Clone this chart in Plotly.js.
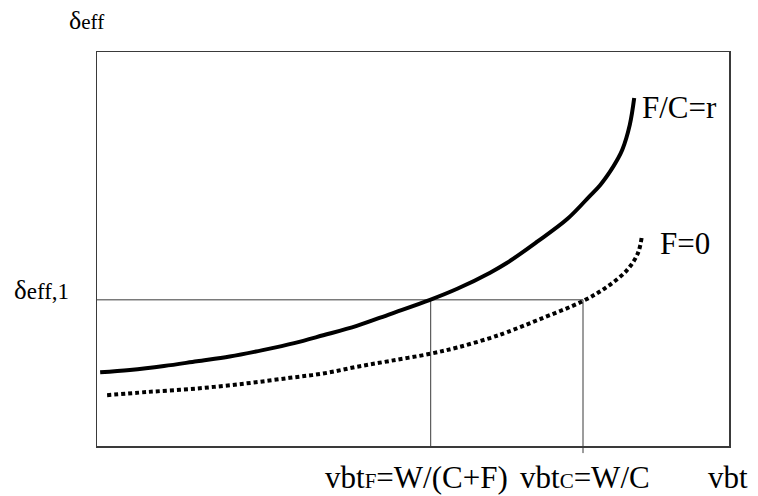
<!DOCTYPE html>
<html>
<head>
<meta charset="utf-8">
<script src="https://cdn.plot.ly/plotly-3.0.1.min.js"></script>
<style>
html,body{margin:0;padding:0;background:#fff;}
#chart{width:758px;height:496px;}
#chart text, #chart tspan { font-family: "Liberation Serif", "Times New Roman", serif !important; }
</style>
</head>
<body>
<div id="chart"></div>
<script>
// Curve F/C = r (solid)
const solidX = [0.05, 0.52, 1.06, 1.58, 2.10, 2.64, 3.12, 3.58, 4.11, 4.64, 5.27, 5.70, 6.22, 6.49, 6.96, 7.44, 7.80, 7.96, 8.12, 8.23, 8.31, 8.43, 8.50];
const solidY = [1.87, 1.93, 2.03, 2.15, 2.27, 2.44, 2.61, 2.81, 3.05, 3.35, 3.71, 3.99, 4.40, 4.65, 5.18, 5.76, 6.35, 6.62, 6.97, 7.26, 7.51, 8.15, 8.83];
// Curve F = 0 (dotted)
const dotX = [0.16, 0.79, 1.58, 2.37, 3.05, 3.58, 4.11, 4.64, 5.27, 5.70, 6.22, 6.49, 7.01, 7.69, 8.07, 8.39, 8.56, 8.62];
const dotY = [1.29, 1.37, 1.46, 1.59, 1.73, 1.84, 2.01, 2.16, 2.34, 2.50, 2.74, 2.89, 3.22, 3.68, 4.04, 4.47, 4.90, 5.31];
// Reference level and intersection points
const delta1 = 3.71;
const vbtF = 5.28;
const vbtC = 7.69;
// Labels
const labelSolid = "F/C=r";
const labelDot = "F=0";

const lineCol = "#3a3a3a";
const data = [
  {x: [0, vbtC], y: [delta1, delta1], mode: "lines", line: {color: lineCol, width: 1}, hoverinfo: "skip"},
  {x: [vbtF, vbtF], y: [0, delta1], mode: "lines", line: {color: lineCol, width: 1}, hoverinfo: "skip"},
  {x: [vbtC, vbtC], y: [0, delta1], mode: "lines", line: {color: lineCol, width: 1}, hoverinfo: "skip"},
  {x: solidX, y: solidY, mode: "lines", line: {color: "#000", width: 4, shape: "spline", smoothing: 1}, hoverinfo: "skip"},
  {x: dotX, y: dotY, mode: "lines", line: {color: "#000", width: 4, dash: "4px,3px", shape: "spline", smoothing: 1}, hoverinfo: "skip"}
];
function ann(text, x, y, size) {
  return {text: text, x: x, y: y, xref: "paper", yref: "paper", xanchor: "left", yanchor: "middle", showarrow: false,
          font: {family: "Liberation Serif", size: size || 31, color: "#000"}};
}
const layout = {
  width: 758, height: 496,
  font: {family: "Liberation Serif"},
  margin: {l: 97, r: 29, t: 52, b: 50},
  paper_bgcolor: "#fff", plot_bgcolor: "#fff",
  showlegend: false,
  xaxis: {range: [0, 10], showgrid: false, zeroline: false, showticklabels: false, ticks: "", showline: true, mirror: true, linecolor: lineCol, linewidth: 1.5},
  yaxis: {range: [0, 10], showgrid: false, zeroline: false, showticklabels: false, ticks: "", showline: true, mirror: true, linecolor: lineCol, linewidth: 1.5},
  shapes: [
    {type: "line", xref: "x", yref: "paper", x0: vbtC, x1: vbtC, y0: -0.018, y1: 0, line: {color: lineCol, width: 1}}
  ],
  annotations: [
    ann('<span style="font-size:26px">δ</span><span style="font-size:21px">eff</span>', -0.047, 1.081),
    ann('<span style="font-size:27px">δ</span><span style="font-size:23px">eff,1</span>', -0.1345, 0.396),
    ann('vbt<span style="font-size:21px">F</span>=W/(C+F)', 0.3576, -0.0812),
    ann('vbt<span style="font-size:21px">C</span>=W/C', 0.666, -0.0812),
    ann('vbt', 0.9636, -0.0812),
    ann(labelSolid, 0.859, 0.858),
    ann(labelDot, 0.8877, 0.515)
  ]
};
Plotly.newPlot("chart", data, layout, {staticPlot: true, displayModeBar: false});
</script>
</body>
</html>
